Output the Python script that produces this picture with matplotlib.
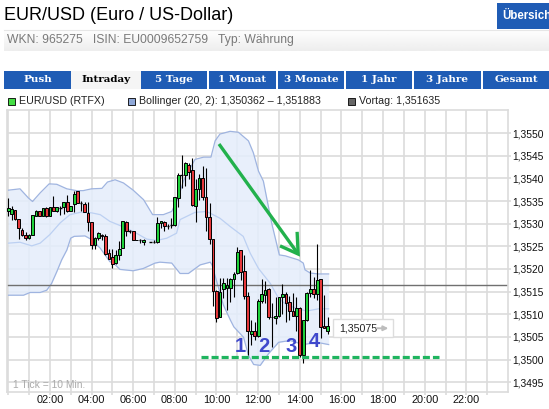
import numpy as np
import matplotlib
matplotlib.use("Agg")
import matplotlib.pyplot as plt
from matplotlib.patches import Rectangle

W, H = 549, 409
TICK_HOURS = 1 / 6

open_p = [1.35328,1.35322,1.35331,1.35310,1.35287,1.35276,1.35269,1.35275,1.35316,1.35328,
 1.35316,1.35334,1.35316,1.35337,1.35328,1.35334,1.35336,1.35349,1.35328,1.35344,
 1.35373,1.35346,1.35344,1.35324,1.35304,1.35254,1.35269,1.35276,1.35273,1.35235,
 1.35226,1.35214,1.35230,1.35246,1.35303,1.35283,1.35284,1.35265,1.35263,1.35259,
 np.nan,1.35260,1.35260,1.35259,1.35301,1.35303,1.35296,1.35298,1.35298,1.35357,
 1.35407,1.35407,1.35430,1.35418,1.35338,1.35377,1.35401,1.35359,1.35315,1.35266,
 1.35152,1.35093,1.35155,1.35158,1.35158,1.35177,1.35190,1.35242,1.35195,1.35141,
 1.35057,1.35064,1.35052,1.35130,1.35143,1.35155,1.35094,1.35092,1.35095,1.35138,
 1.35144,1.35126,1.35108,1.35097,1.35113,1.35009,1.35087,1.35147,1.35155,1.35144,
 1.35178,1.35073,1.35064]
high_p = [1.35357,1.35340,1.35331,1.35310,1.35290,1.35281,1.35278,1.35319,1.35331,1.35328,
 1.35334,1.35337,1.35337,1.35362,1.35337,1.35340,1.35348,1.35364,1.35340,1.35372,
 1.35373,1.35350,1.35349,1.35349,1.35304,1.35270,1.35282,1.35278,1.35278,1.35244,
 1.35244,1.35241,1.35261,1.35305,1.35305,1.35287,1.35284,1.35265,1.35267,1.35267,
 np.nan,1.35260,1.35265,1.35315,1.35305,1.35305,1.35300,1.35313,1.35359,1.35413,
 1.35451,1.35436,1.35435,1.35446,1.35399,1.35409,1.35427,1.35424,1.35346,1.35266,
 1.35153,1.35179,1.35179,1.35179,1.35179,1.35194,1.35248,1.35242,1.35231,1.35149,
 1.35088,1.35083,1.35133,1.35177,1.35174,1.35158,1.35124,1.35138,1.35137,1.35167,
 1.35150,1.35140,1.35146,1.35137,1.35116,1.35087,1.35149,1.35198,1.35183,1.35255,
 1.35178,1.35142,1.35093]
low_p = [1.35316,1.35308,1.35308,1.35267,1.35273,1.35265,1.35267,1.35275,1.35316,1.35316,
 1.35316,1.35315,1.35316,1.35328,1.35325,1.35320,1.35322,1.35325,1.35328,1.35325,
 1.35345,1.35328,1.35325,1.35283,1.35244,1.35244,1.35265,1.35265,1.35231,1.35222,
 1.35202,1.35211,1.35220,1.35246,1.35273,1.35279,1.35265,1.35264,1.35257,1.35254,
 np.nan,1.35260,1.35257,1.35257,1.35290,1.35283,1.35288,1.35290,1.35296,1.35337,
 1.35379,1.35383,1.35398,1.35340,1.35303,1.35353,1.35353,1.35283,1.35255,1.35118,
 1.35083,1.35093,1.35135,1.35110,1.35127,1.35138,1.35189,1.35175,1.35133,1.35009,
 1.35031,1.35042,1.35050,1.35124,1.35124,1.35090,1.35027,1.35079,1.35094,1.35100,
 1.35083,1.35087,1.35095,1.35064,1.35005,1.34992,1.35085,1.35138,1.35135,1.35131,
 1.35048,1.35070,1.35057]
close_p = [1.35335,1.35333,1.35310,1.35290,1.35276,1.35269,1.35276,1.35319,1.35328,1.35316,
 1.35334,1.35318,1.35337,1.35328,1.35337,1.35334,1.35348,1.35328,1.35340,1.35366,
 1.35346,1.35346,1.35325,1.35304,1.35254,1.35268,1.35279,1.35273,1.35233,1.35223,
 1.35211,1.35230,1.35244,1.35305,1.35284,1.35283,1.35265,1.35264,1.35263,1.35263,
 np.nan,1.35260,1.35260,1.35302,1.35305,1.35294,1.35296,1.35298,1.35359,1.35408,
 1.35407,1.35433,1.35415,1.35341,1.35377,1.35401,1.35359,1.35315,1.35266,1.35152,
 1.35092,1.35150,1.35168,1.35164,1.35177,1.35189,1.35238,1.35194,1.35141,1.35064,
 1.35064,1.35052,1.35129,1.35144,1.35153,1.35094,1.35093,1.35097,1.35137,1.35144,
 1.35124,1.35107,1.35097,1.35113,1.35009,1.35087,1.35147,1.35155,1.35144,1.35175,
 1.35072,1.35070,1.35075]

upper_tick = [0,3.4,5.8,7,9.2,11.8,14,16.9,19.7,21.6,24,27,28.6,30.8,33.2,36,39,41.6,44.7,47.1,49,50.5,
 53.8,56.3,58.4,59.6,61,63.9,66.3,69.2,70.6,72.1,73.5,75.9,78.1,79.8,83.6,85,85.5,87,89.3,92.3]
upper_p = [1.35374,1.35377,1.35357,1.35349,1.35368,1.35388,1.35387,1.35377,1.35373,1.35373,1.35377,1.35378,
 1.35392,1.35397,1.35390,1.35374,1.35353,1.35320,1.35320,1.35327,1.35357,1.35395,
 1.35442,1.35447,1.35447,1.35483,1.35498,1.35504,1.35502,1.35483,1.35457,1.35416,1.35394,1.35301,
 1.35231,1.35229,1.35220,1.35213,1.35198,1.35191,1.35189,1.35189]
middle_tick = [0,3.4,6.8,9.2,12,15,17.8,20.7,24,26.5,29.3,32.2,36,39.9,42.8,45.7,48.5,49.5,53.8,57.2,
 61,63.9,67.7,69.7,72.1,75.5,77.9,80.3,83.1,86,89.4,92.3]
middle_p = [1.35257,1.35259,1.35251,1.35257,1.35276,1.35302,1.35320,1.35325,1.35324,1.35320,1.35305,1.35296,
 1.35283,1.35266,1.35263,1.35268,1.35279,1.35309,1.35325,1.35327,1.35312,1.35294,1.35272,1.35235,1.35201,
 1.35168,1.35135,1.35120,1.35113,1.35107,1.35112,1.35112]
lower_tick = [0,4.4,6.3,9.2,11.1,12.5,14,15.4,16.9,18,19,22.1,24,26.5,29.3,30.3,32.2,36,38.9,42.3,43.7,47.1,
 49.5,51.9,55.3,58.2,58.7,62,64,65,67.8,69.2,70.7,72.6,75,77.9,81.2,85,88.9,92.3]
lower_p = [1.35142,1.35142,1.35148,1.35148,1.35153,1.35168,1.35194,1.35220,1.35242,1.35268,1.35272,1.35273,
 1.35265,1.35246,1.35216,1.35213,1.35199,1.35196,1.35201,1.35213,1.35215,1.35213,1.35190,1.35190,1.35209,
 1.35215,1.35209,1.35120,1.35087,1.35072,1.35049,1.35009,1.34989,1.34987,1.35013,1.35038,1.35042,1.35033,
 1.35038,1.35033]

previous_close = 1.351635
last_price = 1.35075
support = 1.35005
arrow_start = (10.12, 1.35476)
arrow_end = (13.92, 1.35233)
head_a = (13.87, 1.35282)
head_b = (13.05, 1.35251)
wave_labels = ["1", "2", "3", "4"]
wave_hours = [11.16, 12.28, 13.57, 14.68]
wave_prices = [1.35029, 1.35028, 1.35028, 1.35040]
y_ticks = [1.3495,1.3500,1.3505,1.3510,1.3515,1.3520,1.3525,1.3530,1.3535,1.3540,1.3545,1.3550]
x_ticks = [2,4,6,8,10,12,14,16,18,20,22]
tabs = ["Push","Intraday","5 Tage","1 Monat","3 Monate","1 Jahr","3 Jahre","Gesamt"]
tab_left = [4,71,141,209,278,346,414,483]
tab_right = [71,141,207,276,344,412,481,549]

BLUE = "#1f5cb5"
SANS = "Liberation Sans"

fig = plt.figure(figsize=(W/100, H/100), dpi=100, facecolor="white")

bg = fig.add_axes([0, 0, 1, 1])
bg.set_xlim(0, W); bg.set_ylim(H, 0); bg.axis("off")
bg.text(4.5, 16, "EUR/USD (Euro / US-Dollar)", fontsize=13.0, family=SANS, va="center", color="black")
bg.add_patch(Rectangle((497, 3), 52, 26, fc=BLUE, ec="none"))
bg.text(502.7, 16, "Übersicht", fontsize=8.3, family=SANS, weight="bold", color="white", va="center", clip_on=True)
grad = np.linspace(1, 0.93, 32)[:, None]
bg.imshow(grad, extent=(4, 549, 51, 29), cmap="gray", vmin=0, vmax=1, aspect="auto", zorder=0)
bg.set_xlim(0, W); bg.set_ylim(H, 0)
bg.plot([4, 549], [29.5, 29.5], color="#e6e6e6", lw=0.8)
bg.text(6.7, 40, "WKN: 965275   ISIN: EU0009652759   Typ: Währung", fontsize=8.7, family=SANS, color="#7a7a7a", va="center")
for name, a, b in zip(tabs, tab_left, tab_right):
    active = name == "Intraday"
    bg.add_patch(Rectangle((a, 71), b - a, 18, fc="#f5f5f5" if active else BLUE, ec="none"))
    bg.text((a + b) / 2, 80, name, fontsize=7.5, family="DejaVu Serif", weight="bold",
            color="black" if active else "white", ha="center", va="center")
for x0, col, txt, tx in [(7.5, "#44dd44", "EUR/USD (RTFX)", 19.3),
                         (127.8, "#8fa8d8", "Bollinger (20, 2): 1,350362 – 1,351883", 139.3),
                         (347.5, "#666666", "Vortag: 1,351635", 359)]:
    bg.add_patch(Rectangle((x0, 97.5), 7, 7, fc=col, ec="black", lw=0.6))
    bg.text(tx, 101, txt, fontsize=7.7, family=SANS, color="#222222", va="center")

L, R, T, B = 6.7, 507.7, 110, 391.7
ax = fig.add_axes([L/W, 1 - B/H, (R - L)/W, (B - T)/H])
ax.set_facecolor("none")
px_h = 20.83
ax.set_xlim((L - 8.2)/px_h, (R - 8.2)/px_h)
ax.set_ylim(1.3500 + (359.5 - B)/4.527e4, 1.3500 + (359.5 - T)/4.527e4)
ax.set_xticks(np.arange(0, 24))
ax.set_xticklabels([f"{h:02d}:00" if h in x_ticks else "" for h in range(24)],
                   fontsize=7.9, family=SANS, color="#111111")
ax.yaxis.tick_right()
ax.set_yticks(y_ticks)
ax.set_yticklabels([f"{v:.4f}".replace(".", ",") for v in y_ticks], fontsize=7.4, family=SANS, color="#111111")
ax.tick_params(axis="both", color="#dcdcdc", width=1.2, length=2, pad=1)
ax.tick_params(axis="x", pad=0.5)
ax.grid(True, color="#dcdcdc", lw=1.2, zorder=0)
ax.set_axisbelow(True)
for s in ax.spines.values():
    s.set_color("#dcdcdc"); s.set_linewidth(1.2)

t_u = np.array(upper_tick) * TICK_HOURS
t_m = np.array(middle_tick) * TICK_HOURS
t_l = np.array(lower_tick) * TICK_HOURS
grid_t = np.union1d(t_u, t_l)
ax.fill_between(grid_t, np.interp(grid_t, t_l, lower_p), np.interp(grid_t, t_u, upper_p),
                color="#e4edfb", alpha=0.85, lw=0, zorder=1.5)
ax.plot(t_u, upper_p, color="#9fb4e0", lw=0.9, zorder=2)
ax.plot(t_l, lower_p, color="#9fb4e0", lw=0.9, zorder=2)
ax.plot(t_m, middle_p, color="#bcd0f2", lw=0.9, zorder=2)
ax.axhline(previous_close, color="#707070", lw=1.0, zorder=2.5)

times = np.arange(len(open_p)) * TICK_HOURS
O, Hi, Lo, C = map(np.array, (open_p, high_p, low_p, close_p))
ok = ~np.isnan(O)
ax.vlines(times[ok], Lo[ok], Hi[ok], color="black", lw=0.8, zorder=3)
up = ok & (C > O)
down = ok & (C < O)
flat = ok & (C == O)
bw = 2.7 / px_h
ax.bar(times[up], (C - O)[up], bottom=O[up], width=bw, fc="#1fd13a", ec="black", lw=0.7, zorder=4)
ax.bar(times[down], (O - C)[down], bottom=C[down], width=bw, fc="#e5383b", ec="black", lw=0.7, zorder=4)
ax.hlines(O[flat], times[flat] - bw/2, times[flat] + bw/2, color="black", lw=1.0, zorder=4)

G = "#22b14c"
ax.plot([arrow_start[0], arrow_end[0]], [arrow_start[1], arrow_end[1]], color=G, lw=2.4, zorder=6, solid_capstyle="butt")
ax.plot([head_a[0], arrow_end[0], head_b[0]], [head_a[1], arrow_end[1], head_b[1]], color=G, lw=2.4, zorder=6,
        solid_joinstyle="miter", solid_capstyle="butt")
ax.plot([9.25, 20.7], [support, support], color="#1fb55f", lw=2.3, zorder=6, dashes=(2.2, 0.95))
for s, h, p in zip(wave_labels, wave_hours, wave_prices):
    ax.text(h, p, s, fontsize=14.5, family=SANS, weight="bold", color="#3f48cc", ha="center", va="center", zorder=7)

ax.add_patch(Rectangle((15.58, 1.35050), 2.88, 0.00039, fc="white", ec="#dddddd", lw=1, zorder=6.5))
ax.text(15.87, 1.35069, f"{last_price:.5f}".replace(".", ","), fontsize=7.7, family=SANS, color="#222222", va="center", zorder=7)
ax.annotate("", xy=(18.25, 1.35069), xytext=(17.7, 1.35069), zorder=8,
            arrowprops=dict(arrowstyle="-|>", color="#bdbdbd", lw=1.4, mutation_scale=7, shrinkA=0, shrinkB=0))
ax.text(0.23, 1.34943, "1 Tick = 10 Min.", fontsize=7.4, family=SANS, color="#ababab", va="center", zorder=7)

fig.savefig("out.png", dpi=100)
